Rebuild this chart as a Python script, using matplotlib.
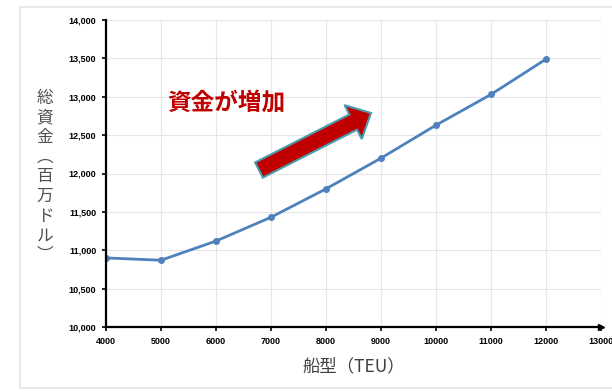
import matplotlib
matplotlib.use("Agg")
import matplotlib.pyplot as plt
from matplotlib.patches import FancyArrow, Rectangle

plt.rcParams["font.family"] = ["Noto Sans CJK JP", "DejaVu Sans"]

ship_size = [4000, 5000, 6000, 7000, 8000, 9000, 10000, 11000, 12000]
total_fund = [10900, 10870, 11120, 11430, 11800, 12200, 12630, 13030, 13490]
x_ticks = list(range(4000, 13001, 1000))
y_ticks = list(range(10000, 14001, 500))

fig = plt.figure(figsize=(6.12, 3.92), dpi=100)
W, H = 612, 392

# light outer frame
fig.patches.append(Rectangle((20 / W, 4 / H), 600 / W, 381 / H, transform=fig.transFigure,
                             fill=False, edgecolor="#e4e4e4", linewidth=1.2))

ax = fig.add_axes([106 / W, 1 - 327 / H, 495 / W, 307 / H])
ax.plot(ship_size, total_fund, color="#4f81bd", linewidth=2, marker="o", markersize=4)
ax.set_xlim(4000, 13000)
ax.set_ylim(10000, 14000)
ax.set_xticks(x_ticks)
ax.set_yticks(y_ticks)
ax.set_xticklabels([str(v) for v in x_ticks], fontsize=6.5, fontweight="bold", family="Liberation Sans")
ax.set_yticklabels([f"{v:,}" for v in y_ticks], fontsize=6.5, fontweight="bold", family="Liberation Sans")
ax.grid(color="#e6e6e6", linewidth=0.8)
ax.set_axisbelow(True)
for side in ["top", "right"]:
    ax.spines[side].set_visible(False)
ax.spines["left"].set_linewidth(1.6)
ax.spines["bottom"].set_linewidth(1.6)
ax.tick_params(axis="both", length=3, width=1.2, pad=4)
ax.plot(1.0, 0, ">", color="black", markersize=4, transform=ax.transAxes, clip_on=False)

ax.set_xlabel("船型（TEU）", fontsize=12.5, color="#404040", labelpad=8)
fig.text(45 / W, 1 - 177 / H, "総\n資\n金\n︵\n百\n万\nド\nル\n︶", fontsize=12, color="#505050",
         ha="center", va="center", linespacing=1.2)

fig.text(167 / W, 1 - 103 / H, "資金が増加", fontsize=17, fontweight="bold", color="#c00000",
         ha="left", va="center")

# red arrow (figure pixel coords)
fig.patches.append(FancyArrow(259, H - 170, 112, 57, width=17, head_width=38,
                              head_length=20, length_includes_head=True,
                              facecolor="#c00000", edgecolor="#4a9bb0", linewidth=1.5,
                              transform=None))

fig.savefig("out.png", dpi=100)
